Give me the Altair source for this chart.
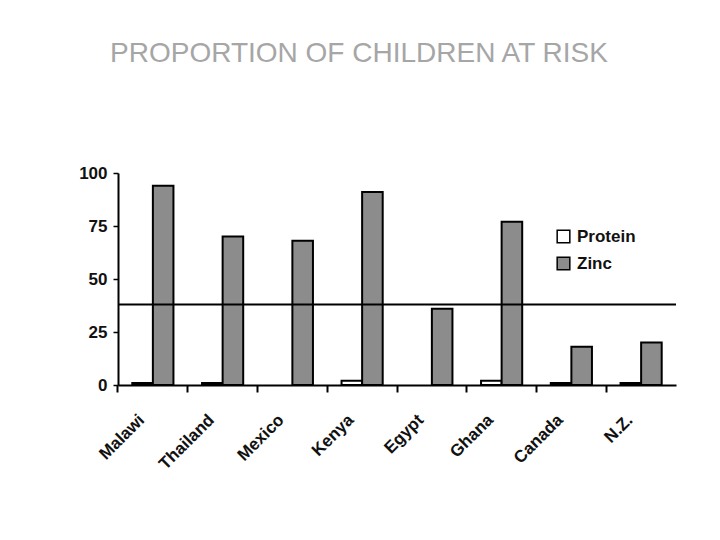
import altair as alt
import pandas as pd

countries = ["Malawi", "Thailand", "Mexico", "Kenya", "Egypt", "Ghana", "Canada", "N.Z."]
protein = [1, 1, 0, 2, 0, 2, 1, 1]
zinc = [94, 70, 68, 91, 36, 77, 18, 20]
series = ["Protein", "Zinc"]
threshold = [38]

rows = []
for c, p, z in zip(countries, protein, zinc):
    rows.append({"country": c, "nutrient": "Protein", "value": p})
    rows.append({"country": c, "nutrient": "Zinc", "value": z})
df = pd.DataFrame(rows)
ref = pd.DataFrame({"level": threshold})

FONT = "Liberation Sans"
PAD_IN = 0.41

x_enc = alt.X(
    "country:N",
    sort=countries,
    title=None,
    scale=alt.Scale(paddingInner=PAD_IN, paddingOuter=PAD_IN / 2),
    axis=alt.Axis(
        bandPosition=-(PAD_IN / 2) / (1 - PAD_IN),
        labelAngle=-45,
        labelAlign="right",
        labelBaseline="middle",
        labelPadding=25,
        labelOffset=-11,
        labelFont=FONT,
        labelFontSize=17,
        labelFontWeight="bold",
        labelColor="#111111",
        domainColor="#000000",
        domainWidth=2,
        ticks=True,
        tickColor="#000000",
        tickOpacity=1,
        tickWidth=2,
        tickSize=7,
        grid=False,
    ),
)

bars = alt.Chart(df).transform_filter(
    alt.datum.value > 0
).mark_bar(stroke="#000000", strokeWidth=2).encode(
    x=x_enc,
    xOffset=alt.XOffset("nutrient:N", sort=series),
    y=alt.Y(
        "value:Q",
        title=None,
        scale=alt.Scale(domain=[0, 100]),
        axis=alt.Axis(
            values=[0, 25, 50, 75, 100],
            labelFont=FONT,
            labelFontSize=17,
            labelFontWeight="bold",
            labelColor="#111111",
            labelPadding=6,
            domainColor="#000000",
            domainWidth=2,
            tickColor="#000000",
            tickWidth=1.5,
            tickSize=5,
            grid=False,
        ),
    ),
    fill=alt.Fill(
        "nutrient:N",
        sort=series,
        scale=alt.Scale(domain=series, range=["#ffffff", "#8c8c8c"]),
        legend=alt.Legend(
            title=None,
            orient="none",
            legendX=437,
            legendY=55,
            symbolType="square",
            symbolSize=160,
            symbolStrokeColor="#000000",
            symbolStrokeWidth=1.5,
            labelFont=FONT,
            labelFontSize=17,
            labelFontWeight="bold",
            labelColor="#111111",
            rowPadding=8,
            labelOffset=5,
        ),
    ),
)

rule = alt.Chart(ref).mark_rule(color="#000000", strokeWidth=2).encode(
    y=alt.Y("level:Q")
)

chart = (
    alt.layer(bars, rule)
    .properties(
        width=558,
        height=212,
        title=alt.TitleParams(
            "PROPORTION OF CHILDREN AT RISK",
            font=FONT,
            fontSize=28,
            fontWeight="normal",
            color="#a6a6a6",
            anchor="middle",
            dx=-38,
            offset=96,
        ),
        autosize=alt.AutoSizeParams(type="none"),
        padding={"left": 110, "top": 165, "right": 30, "bottom": 140},
        background="#ffffff",
    )
    .configure_view(stroke=None)
)

chart.save("out.html", embed_options={"renderer": "svg", "actions": False})
